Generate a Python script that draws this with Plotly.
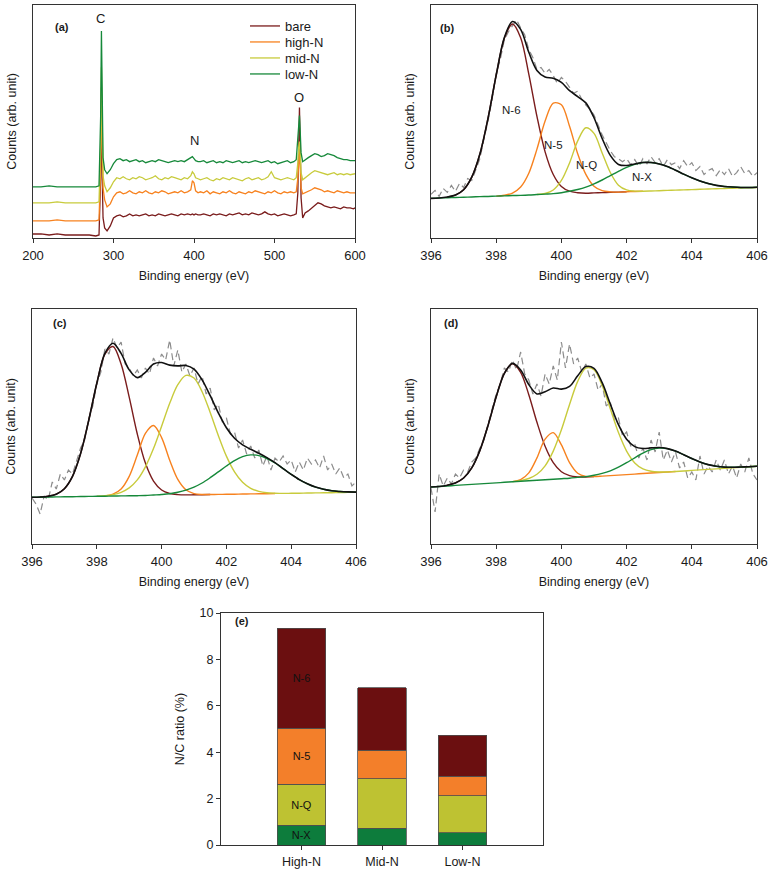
import plotly.graph_objects as go

FONT = "Arial, 'Liberation Sans', sans-serif"
INK = "#1a1a1a"
AXIS = "#333333"
W, H = 772, 873

# ---------------- (a) survey spectra, counts read as height above the axis
survey_energy = [
    200, 210, 220, 230, 240, 250, 260, 270, 278, 282,
    284, 285, 286, 287, 289, 292, 296, 300,
    304, 308, 312, 316, 320, 324, 328, 332, 336, 340, 344, 348,
    352, 356, 360, 364, 368, 372, 376, 380, 384, 388, 392, 396,
    398, 400, 402, 405,
    408, 412, 416, 420, 424, 428, 432, 436, 440, 444, 448, 452, 456, 460, 464,
    468, 472, 476, 480, 484, 488, 492, 496, 500, 504, 508, 512, 516, 520, 524,
    527, 529, 530, 531, 532, 533, 535, 538,
    542, 546, 550, 554, 558, 562, 566, 570, 574, 578, 582, 586, 590, 594, 598,
    600,
]
survey_bare = [
    4, 4, 3, 4, 3, 3, 3, 3, 2, 3,
    60, 119, 60, 20, 10, 7, 12, 20,
    22, 23, 21, 22, 24, 22, 23, 22, 23, 24, 22, 23,
    22, 24, 23, 22, 23, 24, 23, 22, 24, 23, 24, 23,
    24, 23, 24, 23,
    23, 24, 23, 22, 24, 23, 24, 23, 22, 24, 23, 24, 25, 23, 24,
    23, 25, 24, 23, 24, 26, 24, 23, 24, 22, 23, 24, 23, 22, 23,
    24, 45, 100, 130, 90, 40, 20, 25,
    27, 30, 33, 35, 34, 32, 31, 30, 31, 30, 29, 31, 30, 30, 29,
    30,
]
survey_high = [
    17, 17, 17, 18, 17, 17, 17, 17, 17, 18,
    70, 150, 80, 50, 38, 31, 34, 41,
    45, 46, 44, 45, 47, 45, 44, 46, 45, 47, 45, 44,
    46, 45, 47, 46, 44, 45, 46, 45, 47, 45, 46, 48,
    57, 55, 47, 45,
    46, 45, 47, 44, 46, 45, 44, 46, 45, 47, 45, 44, 46, 45, 44,
    46, 45, 47, 46, 45, 44, 46, 45, 47, 45, 44, 46, 45, 46, 45,
    46, 60, 80, 86, 70, 50, 44, 45,
    46, 48, 50, 49, 48, 46, 47, 46, 45, 47, 46, 45, 46, 45, 45,
    45,
]
survey_mid = [
    35, 35, 35, 36, 35, 35, 35, 35, 35, 36,
    90, 170, 100, 62, 52, 46, 50, 56,
    60, 59, 61, 59, 58, 60, 59, 61, 60, 58, 59, 60,
    62, 59, 58, 60, 59, 61, 60, 59, 58, 60, 59, 62,
    66, 64, 60, 59,
    58, 59, 60, 58, 57, 59, 58, 60, 59, 58, 60, 59, 58, 57, 59,
    60, 58, 59, 60, 58, 59, 61, 66, 60, 59, 58, 59, 60, 59, 58,
    60, 75, 90, 96, 85, 65, 58, 60,
    62, 65, 67, 66, 65, 64, 63, 64, 65, 63, 64, 63, 64, 63, 64,
    64,
]
survey_low = [
    51, 51, 52, 51, 51, 51, 51, 51, 51, 52,
    120, 206, 140, 80, 68, 64, 68, 74,
    78, 79, 77, 78, 76, 77, 78, 76, 77, 75, 76, 77,
    76, 78, 77, 76, 75, 76, 77, 76, 77, 76, 78, 80,
    81, 79, 77, 76,
    76, 77, 75, 76, 77, 75, 76, 75, 77, 76, 75, 76, 77, 75, 76,
    75, 76, 77, 76, 75, 76, 77, 75, 76, 74, 75, 76, 77, 75, 76,
    78, 100, 115, 122, 105, 85, 76, 78,
    80, 82, 84, 83, 81, 82, 84, 83, 82, 80, 79, 78, 78, 77, 77,
    77,
]

# ---------------- (b)-(d) N1s fits, 0.25 eV grid; raw data on 0.125 eV grid
fit_energy = [
    396, 396.25, 396.5, 396.75, 397, 397.25, 397.5, 397.75, 398, 398.25,
    398.5, 398.75, 399, 399.25, 399.5, 399.75, 400, 400.25, 400.5, 400.75,
    401, 401.25, 401.5, 401.75, 402, 402.25, 402.5, 402.75, 403, 403.25,
    403.5, 403.75, 404, 404.25, 404.5, 404.75, 405, 405.25, 405.5, 405.75,
    406,
]
raw_energy = [
    396, 396.125, 396.25, 396.375, 396.5, 396.625, 396.75, 396.875, 397, 397.125,
    397.25, 397.375, 397.5, 397.625, 397.75, 397.875, 398, 398.125, 398.25, 398.375,
    398.5, 398.625, 398.75, 398.875, 399, 399.125, 399.25, 399.375, 399.5, 399.625,
    399.75, 399.875, 400, 400.125, 400.25, 400.375, 400.5, 400.625, 400.75, 400.875,
    401, 401.125, 401.25, 401.375, 401.5, 401.625, 401.75, 401.875, 402, 402.125,
    402.25, 402.375, 402.5, 402.625, 402.75, 402.875, 403, 403.125, 403.25, 403.375,
    403.5, 403.625, 403.75, 403.875, 404, 404.125, 404.25, 404.375, 404.5, 404.625,
    404.75, 404.875, 405, 405.125, 405.25, 405.375, 405.5, 405.625, 405.75, 405.875,
    406,
]

b_n6 = [None, None, 41.3, 43.3, 48.7, 61.4, 84.7, 120.9, 164.2, 201.5,
        215.8, 202.0, 165.3, 122.6, 86.9, 64.1, 52.0, 47.2, 45.7, 45.2,
        45.5, 45.8, 46.1, 46.3, 46.6] + [None] * 16
b_n5 = [None] * 8 + [42.2, 43.1, 45.3, 51.4, 65.3, 89.6, 117.9, 136.1, 134.4, 112.7,
                     85.0, 64.2, 52.2, 47.7, 46.5, 46.3, 46.6, 46.9, 47.2] + [None] * 14
b_nq = [None] * 13 + [43.8, 44.9, 48.4, 58.0, 75.7, 98.0, 111.2, 105.5, 85.8, 66.1,
                      53.3, 48.5, 47.3, 47.2, 47.4, 47.7, 48.0, 48.3, 48.5, 48.8,
                      49.1, 49.4, 49.6, 49.9, 50.2, 50.5, 50.7, 51.0]
b_nx = [40.0, 40.3, 40.6, 40.8, 41.1, 41.4, 41.7, 41.9, 42.2, 42.5,
        42.8, 43.0, 43.3, 43.8, 44.3, 44.8, 45.7, 47.1, 48.9, 51.3,
        54.6, 58.5, 62.9, 67.2, 71.2, 74.3, 76.1, 76.1, 74.7, 72.0,
        68.4, 64.4, 60.7, 57.5, 55.0, 53.1, 52.0, 51.4, 51.0, 51.0, 51.2]
b_fit = [40.0, 40.3, 41.3, 43.3, 48.7, 61.4, 84.7, 120.9, 164.2, 202.1,
         218.3, 210.4, 187.3, 169.0, 162.3, 161.1, 156.9, 148.6, 142.6, 136.3,
         121.3, 100.4, 83.3, 74.2, 73.1, 74.7, 76.1, 76.1, 74.7, 72.0,
         68.4, 64.4, 60.7, 57.5, 55.0, 53.1, 52.0, 51.4, 51.0, 51.0, 51.2]
b_raw = [44, 48, 42, 50, 46, 53, 47, 55, 51, 60,
         58, 70, 80, 100, 118, 140, 166, 180, 200, 208,
         214, 220, 212, 205, 190, 182, 170, 172, 166, 170,
         164, 156, 162, 158, 152, 146, 148, 140, 134, 130,
         124, 114, 104, 96, 88, 82, 80, 77, 80, 74,
         79, 72, 80, 75, 82, 76, 80, 72, 79, 74,
         76, 70, 78, 72, 76, 68, 72, 64, 68, 70,
         63, 69, 64, 70, 62, 66, 72, 65, 68, 62,
         66]

c_n6 = [None, 47.0, 47.8, 49.8, 55.3, 67.6, 90.4, 123.5, 160.7, 189.8,
        197.5, 180.1, 146.8, 110.0, 80.9, 62.9, 54.0, 50.5, 49.4, 49.1,
        49.2, 49.3, 49.5] + [None] * 18
c_n5 = [None] * 9 + [48.1, 49.8, 55.0, 67.6, 88.9, 110.6, 118.5, 106.4, 83.8, 64.6,
                     54.2, 50.4, 49.5, 49.5, 49.6, 49.7, 49.8, 50.0, 50.1, 50.2,
                     50.3, 50.5] + [None] * 10
c_nq = [None] * 8 + [47.7, 48.3, 49.4, 51.7, 56.1, 64.1, 77.2, 95.4, 117.7, 140.7,
                     159.3, 168.6, 166.0, 152.3, 131.5, 108.6, 87.9, 72.2, 61.8, 55.7,
                     52.6, 51.2, 50.8, 50.6, 50.7, 50.8, 51.0, 51.1, 51.2, 51.3,
                     51.5, 51.6, 51.7]
c_nx = [46.7, 46.8, 47.0, 47.1, 47.2, 47.3, 47.5, 47.6, 47.7, 47.8,
        48.0, 48.1, 48.2, 48.3, 48.5, 49.0, 49.5, 50.3, 51.8, 53.9,
        56.9, 61.0, 66.3, 72.1, 78.0, 83.3, 87.3, 89.1, 88.4, 85.5,
        81.0, 75.4, 69.7, 64.4, 60.2, 56.9, 54.7, 53.2, 52.5, 52.1, 51.9]
c_fit = [46.7, 47.0, 47.8, 49.8, 55.3, 67.6, 90.4, 123.5, 160.7, 190.6,
         200.7, 190.6, 174.1, 166.4, 171.7, 180.0, 181.5, 178.9, 178.1, 178.5,
         174.9, 164.2, 148.3, 131.1, 116.2, 105.7, 99.1, 94.7, 90.8, 86.4,
         81.3, 75.4, 69.7, 64.4, 60.2, 56.9, 54.7, 53.2, 52.5, 52.1, 51.9]
c_raw = [46, 40, 30, 48, 44, 62, 55, 70, 64, 74,
         70, 84, 96, 104, 125, 138, 160, 172, 195, 190,
         206, 196, 202, 180, 176, 168, 174, 166, 176, 170,
         186, 178, 190, 184, 204, 178, 194, 172, 180, 168,
         176, 160, 168, 150, 156, 134, 140, 122, 126, 110,
         112, 96, 104, 90, 98, 86, 94, 78, 88, 74,
         86, 82, 88, 80, 84, 72, 82, 74, 86, 80,
         84, 76, 88, 74, 80, 70, 76, 66, 70, 58,
         62]

d_n6 = [None, None, 58.8, 61.1, 66.0, 76.1, 93.6, 118.6, 147.2, 170.7,
        180.2, 171.7, 149.3, 121.7, 97.7, 81.3, 72.2, 68.3, 67.1, 67.0,
        67.4] + [None] * 20
d_n5 = [None] * 10 + [62.4, 64.4, 71.1, 86.1, 104.8, 111.4, 99.1, 81.4, 70.8, 67.6,
                      67.5, 67.9, 68.4, 68.9, 69.4, 69.9, 70.5, 71.0, 71.5, 72.0,
                      72.5] + [None] * 10
d_nq = [None] * 10 + [62.4, 63.4, 65.5, 69.7, 78.2, 92.9, 114.2, 139.5, 162.6, 175.8,
                      174.2, 158.6, 135.2, 111.4, 92.9, 81.1, 75.1, 72.7, 72.0, 72.0,
                      72.5, 73.0, 73.6, 74.1, 74.6, 75.1, 75.6, 76.1, 76.7, 77.2,
                      77.7]
d_nx = [57.0, 57.5, 58.0, 58.6, 59.1, 59.6, 60.1, 60.6, 61.1, 61.7,
        62.2, 62.7, 63.2, 63.7, 64.2, 64.8, 65.3, 65.8, 66.6, 67.4,
        68.7, 70.6, 73.2, 76.8, 81.3, 86.2, 90.9, 94.4, 96.0, 95.4,
        92.9, 89.3, 85.5, 82.0, 79.4, 77.8, 76.9, 76.7, 77.0, 77.3, 77.7]
d_fit = [57.0, 57.5, 58.8, 61.1, 66.0, 76.1, 93.6, 118.6, 147.2, 170.7,
         180.6, 174.1, 159.5, 150.1, 152.3, 156.0, 154.9, 157.6, 168.2, 177.4,
         175.6, 161.3, 140.0, 119.3, 104.8, 97.4, 95.5, 96.1, 96.5, 95.4,
         92.9, 89.3, 85.5, 82.0, 79.4, 77.8, 76.9, 76.7, 77.0, 77.3, 77.7]
d_raw = [56, 32, 70, 58, 66, 60, 70, 66, 74, 72,
         82, 86, 96, 104, 120, 134, 150, 160, 176, 172,
         184, 174, 192, 170, 164, 150, 160, 148, 170, 160,
         178, 164, 202, 176, 200, 180, 186, 172, 180, 166,
         170, 154, 160, 138, 142, 124, 126, 108, 112, 98,
         100, 86, 96, 84, 104, 92, 112, 84, 94, 82,
         92, 76, 82, 66, 72, 64, 88, 70, 78, 72,
         84, 74, 84, 70, 78, 66, 80, 72, 86, 70,
         64]

# ---------------- (e) N/C ratio (%) by nitrogen type
samples = ["High-N", "Mid-N", "Low-N"]
nc_nx = [0.86, 0.73, 0.52]
nc_nq = [1.75, 2.12, 1.60]
nc_n5 = [2.43, 1.24, 0.84]
nc_n6 = [4.31, 2.69, 1.77]

# colours
C_N6, C_N5, C_NQ, C_NX = "#7a1c1c", "#f7821f", "#c8cb3c", "#16893a"
BAR_N6, BAR_N5, BAR_NQ, BAR_NX = "#6b0f10", "#f37f2a", "#bec232", "#0d7c3c"
RAW_GREY = "#8c8c8c"


def px_x(x):
    return x / W


def px_y(y):
    return 1 - y / H


def spectrum_xaxis(left, right, rng, tickvals, anchor):
    return dict(
        domain=[px_x(left), px_x(right)], range=rng, tickvals=tickvals, anchor=anchor,
        automargin=False, ticklabeloverflow="allow",
        showline=True, mirror=True, linecolor=AXIS, linewidth=1,
        ticks="outside", ticklen=4, tickcolor=AXIS, showgrid=False, zeroline=False,
        tickfont=dict(size=13, color=INK), ticklabelstandoff=1,
        title=dict(text="Binding energy (eV)", font=dict(size=12.5, color=INK), standoff=9),
    )


def spectrum_yaxis(top, bottom, rng, anchor):
    return dict(
        domain=[px_y(bottom), px_y(top)], range=rng, anchor=anchor,
        automargin=False,
        showline=True, mirror=True, linecolor=AXIS, linewidth=1,
        showticklabels=False, ticks="", showgrid=False, zeroline=False,
        title=dict(text="Counts (arb. unit)", font=dict(size=12.5, color=INK), standoff=12),
    )


fig = go.Figure()

# (a) -- one small legend per series so the entries sit 16 px apart as in the figure
survey_series = [("bare", survey_bare, C_N6), ("high-N", survey_high, C_N5),
                 ("mid-N", survey_mid, C_NQ), ("low-N", survey_low, C_NX)]
legend_rows = [26, 42, 58, 74]
legend_layout = {}
for i, (name, ys, col) in enumerate(survey_series):
    key = "legend" if i == 0 else f"legend{i + 1}"
    fig.add_trace(go.Scatter(x=survey_energy, y=ys, mode="lines", name=name, legend=key,
                             line=dict(color=col, width=1.3), xaxis="x", yaxis="y"))
    legend_layout[key] = dict(x=px_x(245), y=px_y(legend_rows[i]), xanchor="left", yanchor="middle",
                              bgcolor="rgba(0,0,0,0)", font=dict(size=13, color=INK))

# (b)-(d)
panels = [
    ("x2", "y2", b_raw, b_n6, b_n5, b_nq, b_nx, b_fit),
    ("x3", "y3", c_raw, c_n6, c_n5, c_nq, c_nx, c_fit),
    ("x4", "y4", d_raw, d_n6, d_n5, d_nq, d_nx, d_fit),
]
for xa, ya, raw, n6, n5, nq, nx, fit in panels:
    fig.add_trace(go.Scatter(x=raw_energy, y=raw, mode="lines", showlegend=False,
                             line=dict(color=RAW_GREY, width=1.2, dash="7px,4px"),
                             xaxis=xa, yaxis=ya))
    for ys, col in [(n6, C_N6), (n5, C_N5), (nq, C_NQ), (nx, C_NX)]:
        fig.add_trace(go.Scatter(x=fit_energy, y=ys, mode="lines", showlegend=False,
                                 connectgaps=False,
                                 line=dict(color=col, width=1.4, shape="spline", smoothing=0.9),
                                 xaxis=xa, yaxis=ya))
    fig.add_trace(go.Scatter(x=fit_energy, y=fit, mode="lines", showlegend=False,
                             line=dict(color="#111111", width=1.6, shape="spline", smoothing=0.9),
                             xaxis=xa, yaxis=ya))

# (e)
for label, vals, col in [("N-X", nc_nx, BAR_NX), ("N-Q", nc_nq, BAR_NQ),
                         ("N-5", nc_n5, BAR_N5), ("N-6", nc_n6, BAR_N6)]:
    fig.add_trace(go.Bar(
        x=samples, y=vals, width=0.6, showlegend=False,
        marker=dict(color=col, line=dict(color="#4d4d4d", width=0.8)),
        text=[label, "", ""], textposition="inside", insidetextanchor="middle",
        textangle=0, textfont=dict(size=11, color="#111111"),
        xaxis="x5", yaxis="y5",
    ))

TOP_A, BOT_A = 5, 238
TOP_C, BOT_C = 309, 544

fig.update_layout(
    width=W, height=H, margin=dict(l=0, r=0, t=0, b=0, autoexpand=False),
    paper_bgcolor="white", plot_bgcolor="white",
    font=dict(family=FONT, size=12, color=INK),
    barmode="stack",
    xaxis=spectrum_xaxis(33, 355, [200, 600], [200, 300, 400, 500, 600], "y"),
    yaxis=spectrum_yaxis(TOP_A, BOT_A, [0, 232], "x"),
    xaxis2=spectrum_xaxis(431, 757, [396, 406], [396, 398, 400, 402, 404, 406], "y2"),
    yaxis2=spectrum_yaxis(TOP_A, BOT_A, [0, 235], "x2"),
    xaxis3=spectrum_xaxis(32, 356, [396, 406], [396, 398, 400, 402, 404, 406], "y3"),
    yaxis3=spectrum_yaxis(TOP_C, BOT_C, [0, 235], "x3"),
    xaxis4=spectrum_xaxis(431, 757, [396, 406], [396, 398, 400, 402, 404, 406], "y4"),
    yaxis4=spectrum_yaxis(TOP_C, BOT_C, [0, 235], "x4"),
    xaxis5=dict(
        domain=[px_x(221), px_x(543)], anchor="y5", type="category", range=[-1, 3],
        automargin=False,
        showline=True, mirror=True, linecolor=AXIS, linewidth=1,
        ticks="outside", ticklen=4, tickcolor=AXIS, showgrid=False,
        tickfont=dict(size=12.5, color=INK), ticklabelstandoff=1,
    ),
    yaxis5=dict(
        domain=[px_y(845), px_y(613)], anchor="x5", range=[0, 10], dtick=2,
        automargin=False,
        showline=True, mirror=True, linecolor=AXIS, linewidth=1,
        ticks="outside", ticklen=4, tickcolor=AXIS, showgrid=False, zeroline=False,
        tickfont=dict(size=12.5, color=INK),
        title=dict(text="N/C ratio (%)", font=dict(size=12.5, color=INK), standoff=12),
    ),
    **legend_layout,
)

panel_labels = [("(a)", 53, 19), ("(b)", 447, 20), ("(c)", 51, 323), ("(d)", 451, 323), ("(e)", 233, 629)]
for text, px, py in panel_labels:
    fig.add_annotation(x=px_x(px), y=px_y(py), xref="paper", yref="paper", text=f"<b>{text}</b>",
                       showarrow=False, font=dict(size=11, color=INK))

for text, xv, yv in [("C", 284, 219), ("N", 400, 97), ("O", 531, 140)]:
    fig.add_annotation(x=xv, y=yv, xref="x", yref="y", text=text, showarrow=False,
                       font=dict(size=13, color=INK))

for text, xv, yv in [("N-6", 398.47, 129), ("N-5", 399.77, 94), ("N-Q", 400.76, 74), ("N-X", 402.48, 62)]:
    fig.add_annotation(x=xv, y=yv, xref="x2", yref="y2", text=text, showarrow=False,
                       font=dict(size=11.5, color=INK))

# the page body normally carries an 8 px margin; drop it so the figure fills the window
fig.write_html("out.html", config={"displayModeBar": False},
               post_script="document.body.style.margin='0';")
